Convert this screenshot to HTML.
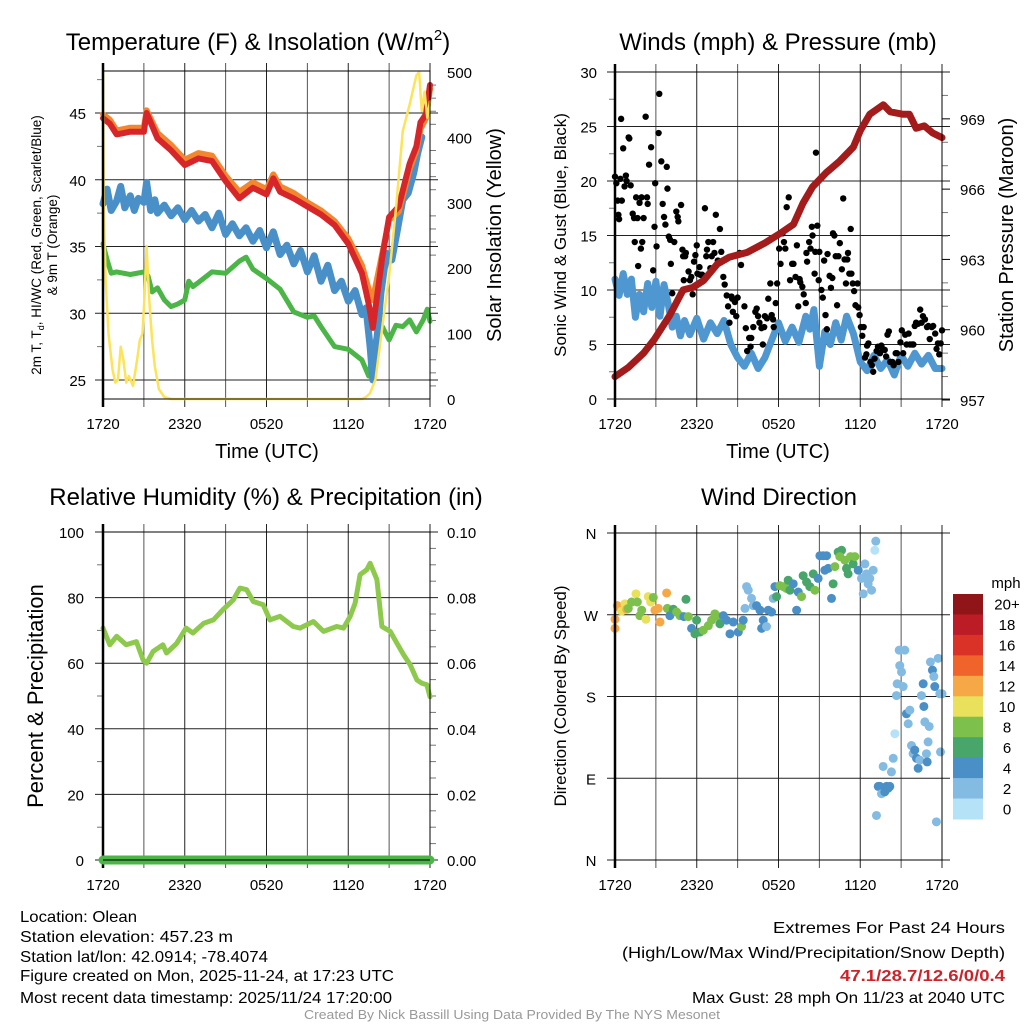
<!DOCTYPE html>
<html><head><meta charset="utf-8"><title>Olean Mesonet Meteogram</title>
<style>html,body{margin:0;padding:0;background:#fff}svg{display:block}text{font-family:"Liberation Sans",sans-serif;fill:#000}</style>
</head><body>
<svg id="fig" width="1024" height="1024" viewBox="0 0 1024 1024" xmlns="http://www.w3.org/2000/svg"></svg>
<script>
// ---------- DATA ----------
const timeTickLabels = ["1720","2320","0520","1120","1720"];
const tempTickLabels = [25,30,35,40,45];
const solarTickLabels = [0,100,200,300,400,500];
const windTickLabels = [0,5,10,15,20,25,30];
const presTickLabels = [957,960,963,966,969];
const rhTickLabels = [0,20,40,60,80,100];
const precipTickLabels = ["0.00","0.02","0.04","0.06","0.08","0.10"];
const dirTickLabels = ["N","E","S","W","N"];
const dirTickValues = [0,90,180,270,360];

const tempHours = [0,0.5,1,2,3,3.2,4,5,6,7,8,9,10,11,12,12.5,13,14,15,16,17,18,19,19.5,19.8,20.5,21,21.7,22,22.5,23,23.3,23.7,24];
const tempRed = [44.6,44.2,43.4,43.6,43.6,45.0,43.1,42.2,41.1,41.6,41.4,39.9,38.6,39.4,38.9,40.1,39.1,38.6,38.0,37.4,36.6,35.2,33.0,30.7,28.9,34.2,37.2,38.0,39.2,41.2,42.5,44.3,44.9,47.1];
const temp9m = [44.9,44.5,43.7,43.9,43.9,45.2,43.5,42.6,41.5,42.0,41.8,40.3,39.1,39.8,39.3,40.4,39.5,39.0,38.3,37.7,36.9,35.6,33.6,31.8,31.0,34.5,37.0,37.6,38.8,40.8,42.2,43.8,44.6,46.8];
const wcHours = [0,0.3,0.6,1,1.3,1.6,2,2.3,2.6,3,3.2,3.5,3.8,4,4.5,5,5.5,6,6.5,7,7.5,8,8.5,9,9.5,10,10.5,11,11.5,12,12.5,13,13.5,14,14.5,15,15.5,16,16.5,17,17.5,18,18.5,19,19.3,19.6,19.8,20.1,20.4,20.8,21.2,21.6,22,22.4,22.8,23.1,23.4];
const wcTemp = [38.2,39.3,37.7,38.4,39.5,37.9,38.8,37.7,38.6,38.3,39.8,37.7,38.5,37.5,38.1,37.3,37.9,37.0,37.7,36.9,37.4,36.4,37.5,35.9,36.7,35.8,36.4,35.4,36.2,34.9,36.1,34.4,35.1,33.7,34.7,33.1,34.3,32.4,33.6,31.7,32.4,30.9,31.7,29.9,30.4,27.5,25.0,28.0,31.5,34.5,34.0,36.2,38.5,39.0,40.5,42.0,43.2];
const dewHours = [0,0.3,0.6,1,2,3,3.3,3.6,4,4.5,5,5.5,6,6.3,6.6,7,8,9,10,10.5,11,12,13,14,15,15.5,16,17,18,19,19.5,19.8,20.1,20.5,21,21.5,22,22.5,23,23.5,23.8,24];
const dewTemp = [35.2,34.0,33.0,33.1,32.9,33.1,32.8,31.6,31.9,31.0,30.5,30.7,31.0,32.4,32.0,32.3,33.1,33.0,33.9,34.2,33.3,32.6,31.8,30.1,29.7,29.8,29.0,27.5,27.3,26.5,25.3,27.0,28.5,29.0,28.0,29.1,29.0,29.5,28.6,29.5,30.3,29.4];
const solarHours = [0,0.05,0.2,0.4,0.7,0.9,1.1,1.3,1.5,1.7,1.9,2.2,2.5,2.7,2.9,3.05,3.2,3.4,3.6,3.8,4.1,4.5,5,10,15,19,19.3,19.6,20,20.5,21,21.5,22,22.5,23,23.2,23.4,23.6,23.8,24];
const solarVals = [500,300,180,100,45,25,30,80,60,25,35,20,60,90,100,160,234,150,90,50,15,3,0,0,0,0,3,9,30,110,188,290,410,450,495,500,440,470,430,455];

const presHours = [0,1,2.1,2.9,4,5,5.7,6.5,7.5,8.4,9.7,11,12.1,13.1,13.8,14.5,15,15.5,16.5,17.5,18,18.7,19.2,19.7,20.2,21.1,21.6,22.1,22.7,23.3,24];
const presVals = [958.0,958.4,959.0,959.6,960.6,961.7,961.8,962.1,962.8,963.1,963.3,963.7,964.1,964.5,965.4,966.1,966.4,966.7,967.2,967.8,968.5,969.2,969.4,969.6,969.3,969.2,969.2,968.6,968.7,968.4,968.2];
const windHours = [0,0.3,0.6,0.9,1.2,1.5,1.8,2.1,2.4,2.7,3,3.3,3.6,3.9,4.2,4.5,4.8,5.1,5.5,6,6.5,7,7.5,8,8.5,9,9.5,10,10.5,11,11.5,12,12.5,13,13.5,14,14.3,14.6,15,15.4,15.8,16.2,16.6,17,17.5,18,18.5,19,19.5,20,20.5,21,21.5,22,22.5,23,23.5,24];
const windVals = [11.0,9.5,11.5,9.6,11.0,7.5,9.6,8.0,10.6,8.4,10.8,7.6,10.5,8.8,6.6,7.6,5.8,7.2,5.9,7.4,5.5,7.0,6.0,7.2,5.0,3.8,3.0,4.2,2.8,3.8,5.4,7.0,5.3,6.6,5.2,7.6,6.4,8.2,3.0,6.2,5.0,7.0,5.4,7.6,6.0,3.4,2.6,4.0,2.8,3.6,2.2,4.0,3.0,4.2,3.2,4.0,2.8,2.8];
const gustHours = [0.0,0.1,0.2,0.25,0.3,0.45,0.4,0.5,0.6,0.7,0.8,0.85,1.0,1.05,1.15,1.3,1.4,1.45,1.55,1.65,1.7,1.8,1.9,1.95,2.0,2.1,2.25,2.35,2.4,2.5,2.65,2.8,2.9,2.95,3.05,3.2,3.25,3.4,3.5,3.6,3.7,3.8,3.85,3.95,4.05,4.1,4.2,4.35,4.5,4.6,4.65,4.85,4.95,5.0,5.05,5.15,5.2,5.4,5.5,5.6,5.7,5.8,5.9,6.0,6.05,6.2,6.25,6.4,6.5,6.6,6.7,6.75,6.85,7.0,7.1,7.2,7.3,7.4,7.55,7.7,7.8,7.95,8.05,8.2,8.3,8.4,8.55,8.6,8.65,8.8,8.9,9.0,9.15,9.25,9.5,9.6,9.7,9.85,9.95,10.0,10.15,10.3,10.4,10.5,10.6,10.75,10.85,10.95,11.0,11.15,11.25,11.4,11.5,11.6,11.65,11.8,11.9,12.05,12.15,12.3,12.4,12.5,12.6,12.75,12.85,13.0,13.1,13.25,13.35,13.45,13.55,13.6,13.75,13.85,14.0,14.05,14.1,14.25,14.35,14.45,14.5,14.65,14.7,14.75,14.85,14.95,15.0,15.15,15.25,15.35,15.45,15.55,15.6,15.75,15.85,15.95,16.0,16.1,16.2,16.3,16.4,16.5,16.65,16.75,16.85,16.95,17.05,17.1,17.2,17.3,17.35,17.45,17.55,17.65,17.8,17.85,17.95,18.05,18.15,18.25,18.35,18.45,18.5,18.6,18.75,18.85,18.95,19.05,19.2,19.3,19.45,19.55,19.65,19.8,19.9,20.0,20.1,20.2,20.35,20.45,20.6,20.7,20.8,20.95,21.05,21.15,21.3,21.4,21.55,21.65,21.8,21.9,22.0,22.1,22.25,22.4,22.5,22.6,22.75,22.9,23.0,23.1,23.25,23.35,23.5,23.6,23.7,23.8,23.9,24.0];
const gustVals = [20.4,19.8,18.2,16.9,16.5,25.7,20.2,18.2,23.0,19.5,20.5,20.0,24.0,23.9,19.6,17.0,16.6,14.4,18.5,16.6,12.2,18.0,13.8,18.5,14.4,16.6,25.9,18.5,17.9,21.5,23.1,11.8,15.8,19.8,14.0,24.4,28.0,21.8,17.9,16.7,16.0,21.3,19.3,14.9,14.6,12.4,9.7,14.4,17.2,16.7,16.3,17.8,13.7,13.1,10.9,13.1,13.4,11.7,10.9,11.2,9.6,12.6,13.2,14.1,11.5,12.1,11.4,11.4,11.1,17.5,13.1,13.7,14.4,12.0,13.1,14.4,13.4,16.9,12.7,15.6,13.5,11.2,10.5,9.5,8.5,7.0,9.4,9.2,8.0,8.9,7.6,9.3,13.4,12.3,8.5,6.5,4.4,5.6,4.8,5.6,6.6,8.0,8.3,7.6,7.0,6.5,5.0,6.6,7.6,7.4,9.2,10.6,7.7,7.3,6.6,8.8,10.6,13.8,12.4,15.2,14.4,13.8,17.6,18.5,10.9,12.4,12.4,11.2,14.1,8.5,11.0,10.7,10.3,9.6,8.8,13.4,12.6,14.4,13.8,15.8,15.0,11.5,13.5,22.6,15.9,10.9,13.5,10.0,9.3,12.7,7.7,6.4,13.3,11.3,10.2,11.1,15.2,15.0,13.1,8.6,13.1,14.3,11.9,18.4,12.8,10.6,12.8,13.4,11.5,15.6,11.5,10.6,9.9,8.6,10.6,8.4,7.7,6.6,5.8,6.6,3.8,4.1,4.9,5.1,3.4,3.1,2.5,3.7,4.4,4.8,4.2,4.9,4.6,4.5,3.9,5.9,6.2,3.4,3.4,3.1,4.2,4.2,3.4,5.2,6.3,4.2,5.9,5.0,6.0,5.0,5.0,5.0,6.7,7.0,6.9,8.2,7.0,7.6,7.3,6.6,6.7,5.5,6.6,6.7,6.0,4.6,5.1,4.1,5.1,6.3];

const rhHours = [0,0.5,1,1.7,2.45,2.94,3.2,3.68,4.4,4.66,5.4,6.1,6.6,7.4,8.1,8.8,9.56,10.05,10.54,11.03,11.76,12.25,12.99,13.97,14.46,15.44,16.18,17.16,17.65,18.14,18.5,18.87,19.36,19.6,20.1,20.47,21.08,21.57,22.06,22.55,23.04,23.4,23.77,24];
const rhVals = [70.7,65.6,68.2,65.6,66.6,61.0,60.0,63.6,65.6,63.1,66.0,70.7,69.2,72.2,73.2,76.3,79.3,82.9,82.4,78.8,77.8,73.2,74.3,71.2,70.7,72.7,69.7,71.2,70.7,74.3,78.3,87.0,88.5,90.5,85.5,71.2,69.7,66.1,62.6,59.5,54.9,53.9,53.4,49.8];
const precipHours = [0,24];
const precipVals = [0,0];

const dirHours = [0,0,0.17,0.32,0.49,0.73,0.86,0.98,1.22,1.54,1.64,1.83,1.96,2.27,2.44,2.62,2.81,2.93,3.18,3.3,3.79,3.84,4.03,4.28,4.52,4.77,5.21,5.06,5.38,5.62,5.87,5.99,6.23,6.48,6.85,7.09,7.33,7.58,7.7,7.95,8.19,8.44,8.68,9.05,9.29,9.41,9.54,9.66,9.78,10.02,10.15,10.39,10.64,10.76,10.88,11.12,11.25,11.49,11.61,11.74,11.86,12.1,12.35,12.59,12.71,12.84,13.08,13.33,13.45,13.69,13.81,14.06,14.3,14.55,14.67,14.91,15.04,15.28,15.53,15.4,15.65,15.89,16.01,16.14,16.38,16.63,16.5,16.87,16.99,17.11,17.29,17.48,17.6,17.85,18.09,18.22,18.34,18.46,18.58,18.7,18.83,18.95,19.07,19.14,19.19,19.32,19.44,19.56,19.68,19.8,19.93,20.05,20.17,20.29,20.42,20.54,20.66,20.71,20.86,20.9,21.03,21.15,21.27,21.39,21.52,21.64,21.76,21.88,22.0,22.13,22.25,22.37,22.49,22.62,22.67,22.74,22.86,22.91,23.06,22.98,23.15,23.3,23.4,23.47,23.59,23.72,23.84,23.89,24];
const dirVals = [265,255,280,278,274,282,276,277,284,293,284,269,275,265,290,284,289,275,277,262,294,277,269,276,273,269,287,268,268,255,249,264,251,253,258,264,271,268,260,269,264,249,262,251,257,264,277,301,297,288,280,280,275,255,264,257,275,273,288,301,290,302,301,299,308,297,304,275,295,290,313,306,301,315,297,310,335,335,335,319,321,288,304,323,339,341,334,330,321,315,334,326,334,319,310,293,326,315,304,310,297,319,341,351,49,81,81,73,103,75,81,79,81,97,112,139,181,194,231,214,207,191,231,161,150,165,126,117,121,112,101,110,181,194,169,152,117,108,147,130,218,209,202,191,42,222,183,119,183];
const dirSpeeds = [13,13,13,13,11,11,13,9,9,11,9,9,9,11,11,11,9,13,13,13,13,9,5,7,9,9,7,5,9,5,7,7,7,9,9,9,9,9,7,5,5,5,5,5,9,5,3,3,3,3,3,5,5,5,5,3,5,5,3,5,7,9,9,9,7,7,5,5,5,9,7,7,7,7,9,5,5,5,5,5,5,5,7,9,7,7,9,9,7,7,9,7,9,5,3,3,3,3,3,3,3,3,1,3,3,5,5,3,3,5,5,5,5,3,3,1,3,3,3,3,3,3,3,5,3,3,3,3,5,5,5,3,3,5,5,3,3,5,3,3,3,5,3,5,3,3,3,3,3];
const speedBinLabels = ["20+","18","16","14","12","10","8","6","4","2","0"];
const speedBinColors = ["#901518","#bb1c25","#db3228","#f0632b","#f6a746","#e9e05b","#7dc04b","#49a66a","#4a8fc6","#83bbe2","#b5e2f6"];

// ---------- HELPERS ----------
const NS="http://www.w3.org/2000/svg";
const svg=document.getElementById('fig');
function mk(tag,attrs,parent){const e=document.createElementNS(NS,tag);for(const k in attrs)e.setAttribute(k,attrs[k]);(parent||svg).appendChild(e);return e;}
function txt(s,x,y,size,anchor,parent,extra){const t=mk('text',Object.assign({x:x,y:y,'font-size':size,'text-anchor':anchor||'middle'},extra||{}),parent);t.textContent=s;return t;}
function speedColor(s){let idx=10-Math.floor(s/2);if(idx<0)idx=0;if(idx>10)idx=10;return speedBinColors[idx];}

const P1={x0:103,x1:430,y0:71,y1:399};
const P2={x0:615,x1:942,y0:72,y1:399};
const P3={x0:103,x1:430,y0:532,y1:860};
const P4={x0:615,x1:942,y0:533,y1:860};
function xT(p,h){return p.x0+h/24*(p.x1-p.x0);}
const yTemp=v=>380-(v-25)*13.35;
const ySolar=v=>399-v*0.654;
const yWind=v=>399-v*10.9;
const yPres=v=>400-(v-957)*23.43;
const yRH=v=>860-v*3.28;
const yPrecip=v=>860-v*3280;
const yDir=v=>860-v/360*327;

function pathFrom(xs,ys,p,yf){let d='';for(let i=0;i<xs.length;i++){d+=(i?'L':'M')+xT(p,xs[i]).toFixed(1)+' '+yf(ys[i]).toFixed(1);}return d;}

function grid(p,g,hvals,yf){
  for(let i=0;i<=8;i++){const x=xT(p,i*3);
    const l=mk('line',{x1:x,y1:p.y0-8,x2:x,y2:p.y1+8,stroke:i%2?'#555':'#222','stroke-width':1},g);
    
    }
  hvals.forEach(v=>{const y=yf(v);
    const l=mk('line',{x1:p.x0-8,y1:y,x2:p.x1+8,y2:y,stroke:'#222','stroke-width':1},g);
    
    });
}
function minorTicks(p,g,vals,yf,side){
  vals.forEach(v=>{const y=yf(v);const x=side==='l'?p.x0:p.x1;
    const l=mk('line',{x1:x,y1:y,x2:side==='l'?x-6:x+6,y2:y,stroke:'#777','stroke-width':1},g);
    
    });
}
function timeLabels(p,g,y){
  timeTickLabels.forEach((s,i)=>{const t=txt(s,xT(p,i*6),y,15,'middle',g);
    
    });
}
function frame(p,g){
  const r=mk('rect',{x:p.x0,y:p.y0,width:p.x1-p.x0,height:p.y1-p.y0,fill:'none',stroke:'#000','stroke-width':1},g);
  
  
  const l=mk('line',{x1:p.x0,y1:p.y0-8,x2:p.x0,y2:p.y1+8,stroke:'#000','stroke-width':2.5},g);
  
  
}
function line(g,d,color,w,name){const e=mk('path',{d:d,fill:'none',stroke:color,'stroke-width':w,'stroke-linejoin':'round','stroke-linecap':'round'},g);
  
  return e;}

// ---------- PANEL 1: TEMPERATURE ----------
const g1=mk('g',{});


let t=txt('Temperature (F) & Insolation (W/m',258,50,24,'middle',g1);
const sup=mk('tspan',{dy:-10,'font-size':15},t);sup.textContent='2';
const sup2=mk('tspan',{dy:10},t);sup2.textContent=')';


grid(P1,g1,tempTickLabels,yTemp);
minorTicks(P1,g1,[27.5,32.5,37.5,42.5,47.5],yTemp,'l');
minorTicks(P1,g1,[20,40,60,80,120,140,160,180,220,240,260,280,320,340,360,380,420,440,460,480],ySolar,'r');
tempTickLabels.forEach(v=>{const e=txt(String(v),86,yTemp(v)+6,15,'end',g1);
  
  });
solarTickLabels.forEach(v=>{const e=txt(String(v),447,ySolar(v)+6,15,'start',g1);
  
  });
line(g1,pathFrom(dewHours,dewTemp,P1,yTemp),'#4bb548',5,'dewpoint-line');
line(g1,pathFrom(wcHours,wcTemp,P1,yTemp),'#4a90c8',7,'windchill-line');
line(g1,pathFrom(tempHours,temp9m,P1,yTemp),'#f4862e',6,'temp-9m-line');
line(g1,pathFrom(tempHours,tempRed,P1,yTemp),'#d7262a',6,'temp-2m-line');
line(g1,pathFrom(solarHours,solarVals,P1,ySolar),'#fde35a',2.5,'solar-line');
frame(P1,g1);
timeLabels(P1,g1,429);
t=txt('Time (UTC)',267,458,20,'middle',g1);


t=txt('2m T, T',0,0,13.5,'middle',g1,{transform:'translate(41,245) rotate(-90)'});
const sub=mk('tspan',{dy:3,'font-size':9},t);sub.textContent='d';
const rest=mk('tspan',{dy:-3},t);rest.textContent=', HI/WC (Red, Green, Scarlet/Blue)';


t=txt('& 9m T (Orange)',0,0,13.5,'middle',g1,{transform:'translate(57,245) rotate(-90)'});


t=txt('Solar Insolation (Yellow)',0,0,20,'middle',g1,{transform:'translate(501,235) rotate(-90)'});



// ---------- PANEL 2: WINDS ----------
const g2=mk('g',{});


t=txt('Winds (mph) & Pressure (mb)',778,50,24,'middle',g2);


grid(P2,g2,windTickLabels,yWind);
minorTicks(P2,g2,[2.5,7.5,12.5,17.5,22.5,27.5],yWind,'l');
minorTicks(P2,g2,[958,959,961,962,964,965,967,968,970],yPres,'r');
presTickLabels.forEach(v=>{const l=mk('line',{x1:P2.x1,y1:yPres(v),x2:P2.x1+8,y2:yPres(v),stroke:'#000'},g2);
  
  });
windTickLabels.forEach(v=>{const e=txt(String(v),597,yWind(v)+6,15,'end',g2);
  
  });
presTickLabels.forEach(v=>{const e=txt(String(v),960,yPres(v)+6,15,'start',g2);
  
  });
line(g2,pathFrom(windHours,windVals,P2,yWind),'#4e97d1',7,'sustained-wind-line');
gustHours.forEach((h,i)=>{const c=mk('circle',{cx:xT(P2,h),cy:yWind(gustVals[i]),r:3.2,fill:'#000'},g2);
  
  });
line(g2,pathFrom(presHours,presVals,P2,yPres),'#a31b1b',7,'pressure-line');
frame(P2,g2);
timeLabels(P2,g2,429);
t=txt('Time (UTC)',778,458,20,'middle',g2);


t=txt('Sonic Wind & Gust (Blue, Black)',0,0,17,'middle',g2,{transform:'translate(566,235) rotate(-90)'});


t=txt('Station Pressure (Maroon)',0,0,20,'middle',g2,{transform:'translate(1013,235) rotate(-90)'});



// ---------- PANEL 3: RH ----------
const g3=mk('g',{});


t=txt('Relative Humidity (%) & Precipitation (in)',266,505,24,'middle',g3);


grid(P3,g3,rhTickLabels,yRH);
minorTicks(P3,g3,[10,30,50,70,90],yRH,'l');
minorTicks(P3,g3,[5,10,15,25,30,35,45,50,55,65,70,75,85,90,95],yRH,'r');
rhTickLabels.forEach(v=>{const e=txt(String(v),84,yRH(v)+6,15,'end',g3);
  
  });
precipTickLabels.forEach((s,i)=>{const e=txt(s,447,yRH(i*20)+6,15,'start',g3);
  
  });
line(g3,pathFrom(rhHours,rhVals,P3,yRH),'#8dc94c',5,'rh-line');
frame(P3,g3);
line(g3,pathFrom(precipHours,precipVals,P3,yPrecip),'#4bb548',9,'precip-line');
const bx=mk('line',{x1:P3.x0,y1:P3.y1,x2:P3.x1,y2:P3.y1,stroke:'#000','stroke-width':1},g3);


timeLabels(P3,g3,890);
t=txt('Percent & Precipitation',0,0,22,'middle',g3,{transform:'translate(43,696) rotate(-90)'});



// ---------- PANEL 4: WIND DIRECTION ----------
const g4=mk('g',{});


t=txt('Wind Direction',779,505,24,'middle',g4);


grid(P4,g4,dirTickValues,yDir);
dirTickValues.forEach((v,i)=>{const e=txt(dirTickLabels[i],591,yDir(v)+6,15,'middle',g4);
  
  });
dirHours.forEach((h,i)=>{const c=mk('circle',{cx:xT(P4,h),cy:yDir(dirVals[i]),r:4.5,fill:speedColor(dirSpeeds[i])},g4);
  
  });
frame(P4,g4);
timeLabels(P4,g4,890);
t=txt('Direction (Colored By Speed)',0,0,17,'middle',g4,{transform:'translate(566,696) rotate(-90)'});


const leg=mk('g',{},g4);


t=txt('mph',1006,588,15,'middle',leg);


const binH=(819-594)/speedBinColors.length;
speedBinColors.forEach((c,i)=>{const r=mk('rect',{x:953,y:594+i*binH,width:30,height:binH+0.5,fill:c},leg);
  
  
  const e=txt(speedBinLabels[i],1007,594+i*binH+binH/2+5.5,15,'middle',leg);
  
  });

// ---------- FOOTER ----------
const foot=mk('g',{});


const leftLines=[["Location: Olean",922,117],["Station elevation: 457.23 m",942,213],["Station lat/lon: 42.0914; -78.4074",962,248],["Figure created on Mon, 2025-11-24, at 17:23 UTC",981,374],["Most recent data timestamp: 2025/11/24 17:20:00",1003,372]];
leftLines.forEach(a=>{const e=txt(a[0],20,a[1],16,'start',foot,{textLength:a[2],lengthAdjust:'spacingAndGlyphs'});
  
  });
const rightLines=[["Extremes For Past 24 Hours",933,232,'#000','normal'],["(High/Low/Max Wind/Precipitation/Snow Depth)",958,383,'#000','normal'],["47.1/28.7/12.6/0/0.4",981,165,'#cc2229','bold'],["Max Gust: 28 mph On 11/23 at 2040 UTC",1003,313,'#000','normal']];
rightLines.forEach(a=>{const e=txt(a[0],1005,a[1],16,'end',foot,{textLength:a[2],lengthAdjust:'spacingAndGlyphs',style:'fill:'+a[3]+';font-weight:'+a[4]});
  
  });
t=txt('Created By Nick Bassill Using Data Provided By The NYS Mesonet',512,1019,13,'middle',foot,{textLength:416,lengthAdjust:'spacingAndGlyphs',style:'fill:#999'});


</script>
</body></html>
